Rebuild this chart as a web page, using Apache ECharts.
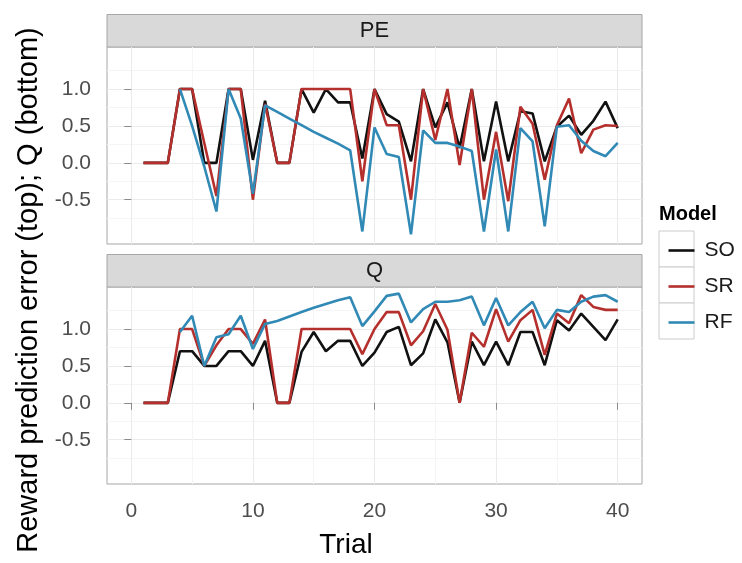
<!DOCTYPE html>
<html>
<head>
<meta charset="utf-8">
<script src="https://cdn.jsdelivr.net/npm/echarts@6/dist/echarts.min.js"></script>
<style>
html, body { margin: 0; padding: 0; background: #fff; }
#chart { width: 742px; height: 563px; }
</style>
</head>
<body>
<div id="chart"></div>
<script>
// trials 1..40
const trials = [1, 2, 3, 4, 5, 6, 7, 8, 9, 10, 11, 12, 13, 14, 15, 16, 17, 18, 19, 20,
    21, 22, 23, 24, 25, 26, 27, 28, 29, 30, 31, 32, 33, 34, 35, 36, 37, 38, 39, 40];
const models = ['SO', 'SR', 'RF'];
const modelColors = ['#111111', '#B5302D', '#3189B5'];
const panels = ['PE', 'Q'];
const xTicks = [0, 10, 20, 30, 40];
const yTicks = [-0.5, 0, 0.5, 1.0];

// top panel: prediction error
const peSO = [0, 0, 0, 1, 1, 0, 0, 1, 1, 0.04, 0.84, 0, 0, 1, 0.68, 1, 0.82, 0.82, 0.06, 1,
    0.66, 0.56, 0.02, 1, 0.48, 0.82, 0.2, 1, 0.02, 0.83, 0.02, 0.7, 0.67, 0.02, 0.49, 0.64, 0.38, 0.57, 0.83, 0.47];
const peSR = [0, 0, 0, 1, 1, 0.27, -0.45, 1, 1, -0.5, 0.8, 0, 0, 1, 1, 1, 1, 1, -0.25, 1,
    0.51, 0.51, -0.5, 1, 0.31, 1, -0.03, 1, -0.5, 0.42, -0.52, 0.76, 0.53, -0.23, 0.51, 0.87, 0.13, 0.45, 0.51, 0.5];
const peRF = [null, null, null, 1, 0.5, -0.05, -0.66, 1, 0.6, -0.42, 0.78, 0.69, 0.6, 0.51, 0.42, 0.34, 0.26, 0.17, -0.93, 0.48,
    0.12, 0.08, -0.97, 0.44, 0.27, 0.27, 0.22, 0.16, -0.93, 0.18, -0.93, 0.47, 0.29, -0.86, 0.49, 0.51, 0.3, 0.16, 0.09, 0.27];

// bottom panel: Q values
const qSO = [0, 0, 0, 0.7, 0.7, 0.5, 0.5, 0.7, 0.7, 0.5, 0.84, 0, 0, 0.69, 0.96, 0.7, 0.84, 0.84, 0.5, 0.68,
    0.96, 1.03, 0.51, 0.67, 1.13, 0.82, 0, 0.83, 0.51, 0.83, 0.51, 0.96, 0.96, 0.51, 1.12, 0.98, 1.21, 1.03, 0.85, 1.13];
const qSR = [0, 0, 0, 1, 1, 0.5, 0.78, 1, 1, 0.8, 1.13, 0, 0, 1, 1, 1, 1, 1, 0.66, 1.0,
    1.23, 1.23, 0.78, 0.97, 1.34, 0.99, 0, 0.95, 0.76, 1.27, 0.83, 1.12, 1.26, 0.65, 1.21, 1.08, 1.46, 1.3, 1.26, 1.26];
const qRF = [null, null, null, 0.96, 1.18, 0.5, 0.89, 0.93, 1.18, 0.73, 1.07, 1.11, 1.17, 1.23, 1.29, 1.34, 1.39, 1.43, 1.04, 1.24,
    1.45, 1.48, 1.09, 1.27, 1.37, 1.37, 1.39, 1.44, 1.05, 1.42, 1.05, 1.23, 1.37, 1.01, 1.26, 1.23, 1.37, 1.44, 1.46, 1.37];

const panelData = [[peSO, peSR, peRF], [qSO, qSR, qRF]];

const font = 'Liberation Sans, Arial, Helvetica, sans-serif';
const gridLeft = 107, gridWidth = 535, gridHeight = 197;
const gridTops = [47, 287];

const chart = echarts.init(document.getElementById('chart'));

let grids = [], xAxes = [], yAxes = [], series = [];
panels.forEach(function (p, k) {
    const bottom = k === panels.length - 1;
    grids.push({
        left: gridLeft, top: gridTops[k], width: gridWidth, height: gridHeight,
        show: true, borderColor: '#A6A6A6', borderWidth: 1, backgroundColor: '#fff'
    });
    xAxes.push({
        type: 'value', gridIndex: k, min: -2, max: 42,
        axisLine: {show: false},
        axisTick: {show: bottom, customValues: xTicks, length: 7, lineStyle: {color: '#8C8C8C'}},
        axisLabel: {show: bottom, customValues: xTicks, fontSize: 21, color: '#4D4D4D', fontFamily: font, margin: 17},
        splitLine: {show: true, lineStyle: {color: '#EBEBEB', width: 1}},
        minorTick: {show: false, splitNumber: 2},
        minorSplitLine: {show: true, lineStyle: {color: '#F5F5F5', width: 1}}
    });
    yAxes.push({
        type: 'value', gridIndex: k, min: -1.1, max: 1.57,
        axisLine: {show: false},
        axisTick: {show: true, customValues: yTicks, length: 7, lineStyle: {color: '#8C8C8C'}},
        axisLabel: {
            show: true, customValues: yTicks, fontSize: 21, color: '#4D4D4D', fontFamily: font, margin: 16,
            formatter: function (v) { return v.toFixed(1); }
        },
        splitLine: {show: true, lineStyle: {color: '#EBEBEB', width: 1}},
        minorTick: {show: false, splitNumber: 2},
        minorSplitLine: {show: true, lineStyle: {color: '#F5F5F5', width: 1}}
    });
    models.forEach(function (m, j) {
        series.push({
            name: m, type: 'line', xAxisIndex: k, yAxisIndex: k,
            data: trials.map(function (t, i) { return [t, panelData[k][j][i]]; }),
            symbol: 'none', showSymbol: false,
            lineStyle: {color: modelColors[j], width: 2.6},
            itemStyle: {color: modelColors[j]},
            z: 3 + j
        });
    });
});

// facet strips
let graphics = [];
panels.forEach(function (p, k) {
    graphics.push({
        type: 'rect', shape: {x: gridLeft, y: gridTops[k] - 32.5, width: gridWidth, height: 32.5},
        style: {fill: '#D9D9D9', stroke: '#A6A6A6', lineWidth: 1}
    });
    graphics.push({
        type: 'text', x: gridLeft + gridWidth / 2, y: gridTops[k] - 16,
        style: {text: p, font: '22px ' + font, fill: '#1A1A1A', textAlign: 'center', textVerticalAlign: 'middle'}
    });
});

// legend key boxes
models.forEach(function (m, j) {
    graphics.push({
        type: 'rect', shape: {x: 659, y: 231 + j * 36, width: 35, height: 36},
        style: {fill: '#fff', stroke: '#CCCCCC', lineWidth: 1}, z: 0
    });
});
graphics.push({
    type: 'text', x: 659, y: 214,
    style: {text: 'Model', font: 'bold 20px ' + font, fill: '#000', textVerticalAlign: 'middle'}
});
graphics.push({
    type: 'text', x: 346, y: 545,
    style: {text: 'Trial', font: '28px ' + font, fill: '#000', textAlign: 'center', textVerticalAlign: 'middle'}
});
graphics.push({
    type: 'text', x: 29, y: 290, rotation: Math.PI / 2,
    style: {text: 'Reward prediction error (top); Q (bottom)', font: '29px ' + font, fill: '#000',
        textAlign: 'center', textVerticalAlign: 'middle'}
});

const option = {
    backgroundColor: '#fff',
    animation: false,
    grid: grids,
    xAxis: xAxes,
    yAxis: yAxes,
    legend: {
        data: models, orient: 'vertical', left: 663.5, top: 235,
        icon: 'rect', itemWidth: 26, itemHeight: 2.6, itemGap: 15,
        selectedMode: false,
        textStyle: {fontSize: 21, color: '#1A1A1A', fontFamily: font, padding: [0, 0, 0, 5]}
    },
    graphic: graphics,
    series: series
};

chart.setOption(option);
</script>
</body>
</html>
